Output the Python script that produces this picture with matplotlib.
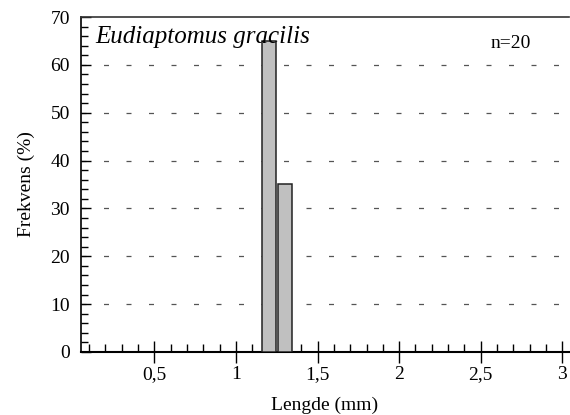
import numpy as np
import matplotlib.pyplot as plt
from matplotlib.ticker import MultipleLocator, FixedLocator, FuncFormatter

# length classes (mm) and frequency (%)
lengths = [1.20, 1.30]
freq = [65, 35]
species = "Eudiaptomus gracilis"
n_label = "n=20"
x_major = [0.5, 1, 1.5, 2, 2.5, 3]

plt.rcParams["font.family"] = ["Liberation Serif", "DejaVu Serif"]

fig = plt.figure(figsize=(5.7, 4.15), dpi=100)
ax = fig.add_axes([0.142, 0.152, 0.856, 0.807])

ax.bar(lengths, freq, width=0.085, color="#c0c0c0", edgecolor="#222222",
       linewidth=1.1, zorder=3)

ax.set_xlim(0.05, 3.04)
ax.set_ylim(0, 70)

# dashed grid
for y in range(10, 70, 10):
    ax.axhline(y, color="#555555", lw=0.9, ls=(0, (4, 14)), zorder=1)

ax.spines["right"].set_visible(False)
ax.spines["top"].set_linewidth(1.2)
ax.spines["top"].set_color("#333333")
ax.spines["left"].set_linewidth(1.2)
ax.spines["bottom"].set_linewidth(1.5)

ax.xaxis.set_major_locator(FixedLocator(x_major))
ax.xaxis.set_minor_locator(MultipleLocator(0.1))
ax.xaxis.set_major_formatter(FuncFormatter(lambda v, p: ("%g" % v).replace(".", ",")))
ax.tick_params(axis="x", which="major", direction="inout", length=16, width=1,
               labelsize=14, pad=2)
ax.tick_params(axis="x", which="minor", direction="in", length=6, width=1)

ax.yaxis.set_major_locator(MultipleLocator(10))
ax.yaxis.set_minor_locator(MultipleLocator(2))
ax.tick_params(axis="y", which="major", direction="in", length=7, width=1,
               labelsize=14, pad=8)
ax.tick_params(axis="y", which="minor", direction="in", length=5, width=1)

ax.set_xlabel("Lengde (mm)", fontsize=14, labelpad=10)
ax.set_ylabel("Frekvens (%)", fontsize=14, labelpad=11)

ax.text(0.029, 0.94, species, transform=ax.transAxes, fontsize=18,
        style="italic", va="center", ha="left", zorder=4)
ax.text(0.88, 0.92, n_label, transform=ax.transAxes, fontsize=14,
        va="center", ha="center")

fig.savefig("out.png", dpi=100)
